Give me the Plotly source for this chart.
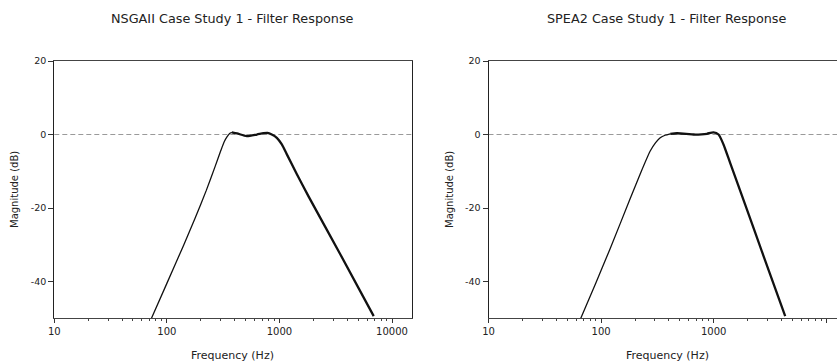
import plotly.graph_objects as go

# ---------------- data ----------------
nsga_freq = [73, 100, 140, 178, 224, 269, 302, 324, 343, 361, 378, 420, 513, 630, 720, 782,
             855, 948, 1050, 1164, 1429, 1818, 3460, 6878]
nsga_db = [-50.0, -40.5, -30.3, -22.8, -15.2, -8.6, -4.3, -1.9, -0.6, 0.3, 0.6, 0.3, -0.45, 0.0, 0.35, 0.45,
           0.0, -0.9, -2.7, -5.4, -10.8, -16.9, -32.5, -49.4]
nsga_peak_idx = 10

spea_freq = [66, 90, 120.5, 181, 222, 273, 305, 335, 370, 411, 471, 570, 662, 780,
             871, 996, 1104, 1222, 1402, 1900, 2767, 4315]
spea_db = [-50.0, -40.3, -31.0, -17.5, -10.8, -4.5, -2.2, -0.9, -0.2, 0.2, 0.35, 0.2, 0.0, 0.05,
           0.2, 0.6, 0.0, -2.7, -7.8, -19.0, -33.0, -49.4]
spea_peak_idx = 9

x_tickvals = [10, 100, 1000, 10000]
x_ticktext = ["10", "100", "1000", "10000"]
x_minor = [m * d for d in (10, 100, 1000, 10000) for m in range(2, 10)]
y_tickvals = [20, 0, -20, -40]
y_ticktext = ["20", "0", "-20", "-40"]

titles = ["NSGAII Case Study 1 - Filter Response", "SPEA2 Case Study 1 - Filter Response"]
x_title = "Frequency (Hz)"
y_title = "Magnitude (dB)"

# ---------------- figure ----------------
W, H = 837, 363
FONT = "DejaVu Sans, Arial, sans-serif"
fig = go.Figure()

def add_curve(freq, db, split, xa, ya):
    fig.add_trace(go.Scatter(x=freq[:split + 1], y=db[:split + 1], mode="lines",
                             line=dict(color="#111", width=1.3, shape="spline", smoothing=0.6),
                             xaxis=xa, yaxis=ya, showlegend=False, hoverinfo="skip"))
    fig.add_trace(go.Scatter(x=freq[split:], y=db[split:], mode="lines",
                             line=dict(color="#111", width=2.3, shape="spline", smoothing=0.6),
                             xaxis=xa, yaxis=ya, showlegend=False, hoverinfo="skip"))

add_curve(nsga_freq, nsga_db, nsga_peak_idx, "x", "y")
add_curve(spea_freq, spea_db, spea_peak_idx, "x2", "y2")

ydom = [1 - 318.3 / H, 1 - 61 / H]
left_dom = [54.3 / W, 412 / W]
right_dom = [488.5 / W, 1.0]

xcommon = dict(type="log", tickvals=x_tickvals, ticktext=x_ticktext,
               ticks="outside", ticklen=4, tickcolor="#333", showgrid=False, zeroline=False,
               showline=True, linecolor="#444", linewidth=1, mirror=True,
               tickfont=dict(family=FONT, size=10, color="#222"),
               minor=dict(tickvals=x_minor, ticks="outside", ticklen=2, tickcolor="#444", showgrid=False))
ycommon = dict(range=[-50, 20], tickvals=y_tickvals, ticktext=y_ticktext,
               ticks="outside", ticklen=5, tickcolor="#333",
               showgrid=False, zeroline=False, showline=True, linecolor="#222", linewidth=1,
               tickfont=dict(family=FONT, size=9.5, color="#222"))

fig.update_layout(
    width=W, height=H, margin=dict(l=0, r=0, t=0, b=0, autoexpand=False),
    paper_bgcolor="white", plot_bgcolor="white",
    xaxis=dict(xcommon, domain=left_dom, range=[1, 1 + (412 - 54.3) / 112.57], anchor="y"),
    yaxis=dict(ycommon, domain=ydom, anchor="x", mirror=True),
    xaxis2=dict(xcommon, domain=right_dom, range=[1, 1 + (837 - 488.5) / 112.6], anchor="y2"),
    yaxis2=dict(ycommon, domain=ydom, anchor="x2", mirror=False),
)

# zero reference lines
for xr, yr in (("x domain", "y"), ("x2 domain", "y2")):
    fig.add_shape(type="line", xref=xr, yref=yr, x0=0, x1=1, y0=0, y1=0,
                  line=dict(color="#9a9a9a", width=1, dash="5px,3px"), layer="below")

# titles
for cx, t in ((233 / W, titles[0]), (667 / W, titles[1])):
    fig.add_annotation(x=cx, y=1 - 18.5 / H, xref="paper", yref="paper", text=t, showarrow=False,
                       xanchor="center", yanchor="middle", font=dict(family=FONT, size=12.8, color="#222"))
    fig.add_annotation(x=cx, y=1 - 355.5 / H, xref="paper", yref="paper", text=x_title, showarrow=False,
                       xanchor="center", yanchor="middle", font=dict(family=FONT, size=11, color="#222"))
for px in (15, 450):
    fig.add_annotation(x=px / W, y=1 - 190 / H, xref="paper", yref="paper", text=y_title, showarrow=False,
                       textangle=-90, xanchor="center", yanchor="middle",
                       font=dict(family=FONT, size=10, color="#222"))

fig.write_html("out.html")
